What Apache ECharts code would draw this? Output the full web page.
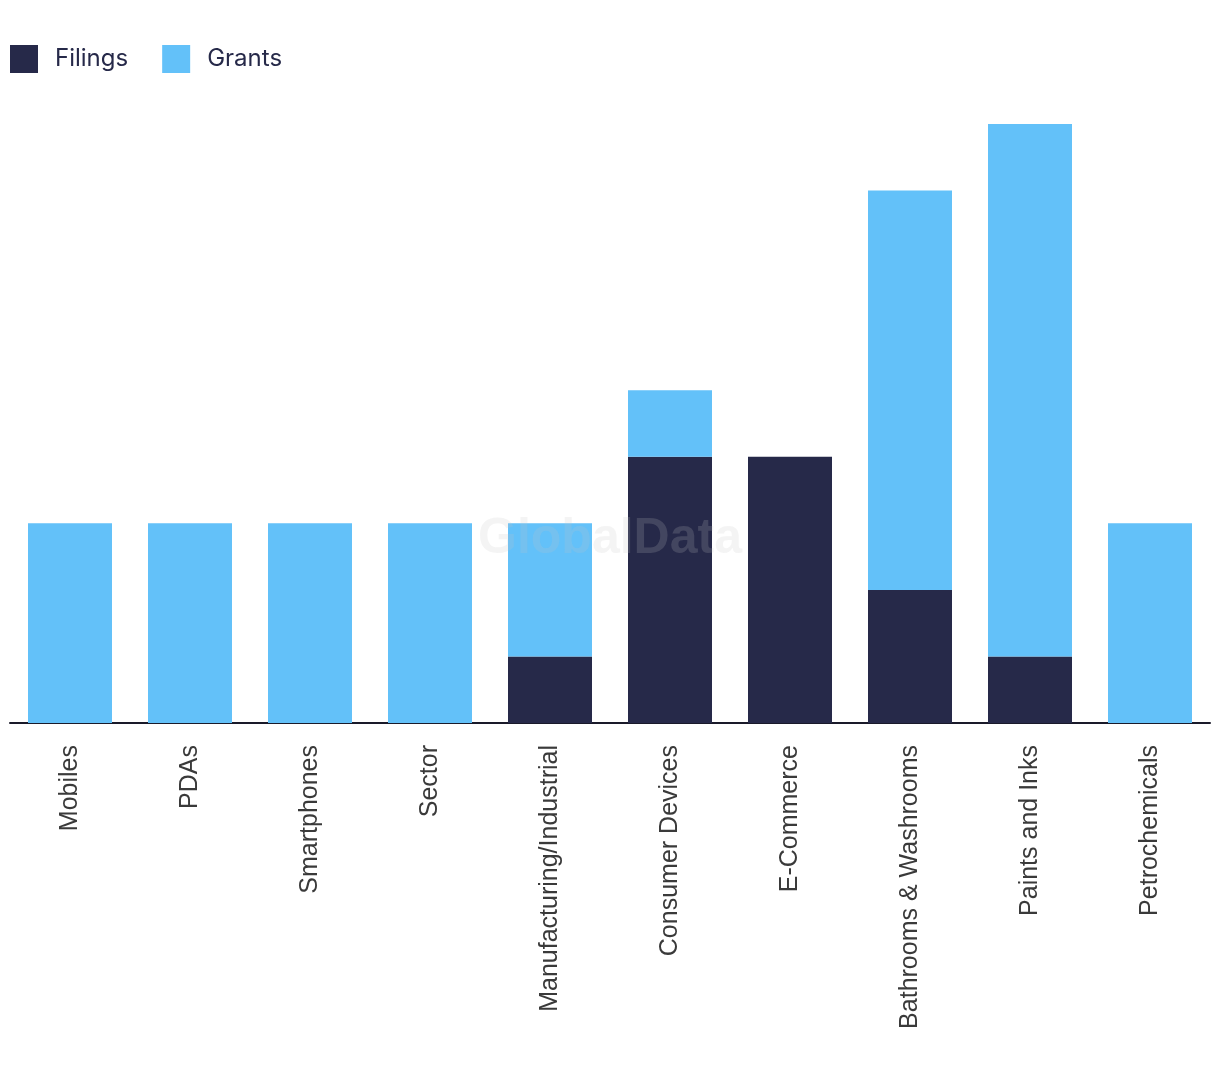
<!DOCTYPE html>
<html><head><meta charset="utf-8">
<script src="https://cdn.jsdelivr.net/npm/echarts@6/dist/echarts.min.js"></script>
<style>html,body{margin:0;padding:0;background:#fff}#c{width:1220px;height:1084px}</style>
</head><body><div id="c"></div>
<script>
const categories = ["Mobiles","PDAs","Smartphones","Sector","Manufacturing/Industrial","Consumer Devices","E-Commerce","Bathrooms & Washrooms","Paints and Inks","Petrochemicals"];
const filings = [0,0,0,0,1,4,4,2,1,0];
const grants  = [3,3,3,3,2,1,0,6,8,3];

const chart = echarts.init(document.getElementById('c'), null, {renderer:'canvas'});
chart.setOption({
  animation:false,
  legend:{
    left:10, top:45, padding:0, itemWidth:28, itemHeight:28, itemGap:34,
    icon:'rect',
    textStyle:{fontFamily:'Inter', fontSize:24, color:'#262949', padding:[0,0,0,12]},
    data:['Filings','Grants']
  },
  grid:{left:10, right:10, top:124, bottom:361, containLabel:false},
  xAxis:{
    type:'category', data:categories,
    axisLine:{lineStyle:{color:'#1a1a2a', width:2}},
    axisTick:{show:false},
    axisLabel:{rotate:90, margin:22, fontFamily:'Liberation Sans', fontSize:25, color:'#3a3a3a', interval:0}
  },
  yAxis:{type:'value', min:0, max:9, show:false, splitLine:{show:false}},
  series:[
    {name:'Filings', type:'bar', stack:'a', data:filings, barWidth:'70%', itemStyle:{color:'#262949'}},
    {name:'Grants', type:'bar', stack:'a', data:grants, barWidth:'70%', itemStyle:{color:'#63c1f9'}}
  ],
  graphic:[{
    type:'text', left:'center', top:514, z:100,
    style:{text:'GlobalData', font:'bold 50px "Liberation Sans"', fill:'rgba(198,198,198,0.19)'}
  }]
});
</script></body></html>
